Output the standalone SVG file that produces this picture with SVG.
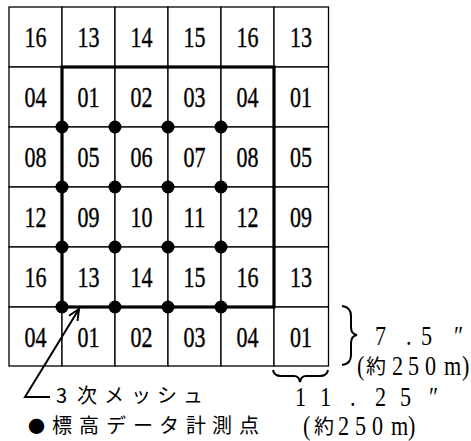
<svg xmlns="http://www.w3.org/2000/svg" width="471" height="441" viewBox="0 0 471 441">
<style>
.cell{fill:#fff;stroke:#000;stroke-width:1.3}
.num{font-family:'Liberation Serif','Noto Sans CJK JP',serif;font-size:29px;text-anchor:middle;fill:#000;stroke:#000;stroke-width:0.4}
.lbl{font-family:'Liberation Serif','Noto Sans CJK JP',serif;font-size:27px;fill:#000}
.jp{font-family:'Noto Sans CJK JP',sans-serif;font-size:20px;fill:#000}
.thick{fill:none;stroke:#000;stroke-width:3.2}
.dot{fill:#000}
.line{fill:none;stroke:#000;stroke-width:2;stroke-linejoin:miter}
</style>
<defs>
<marker id="ah" markerWidth="14" markerHeight="14" refX="12" refY="6" orient="auto" markerUnits="userSpaceOnUse">
<path d="M1,1 L12,6 L1,11" fill="none" stroke="#000" stroke-width="2"/>
</marker>
</defs>
<rect width="471" height="441" fill="#fff"/>
<g id="grid">
<g id="r0">
<rect class="cell" x="9" y="7" width="53" height="60"/><text class="num" x="35.5" y="47" textLength="22" lengthAdjust="spacingAndGlyphs">16</text>
<rect class="cell" x="62" y="7" width="53" height="60"/><text class="num" x="88.5" y="47" textLength="22" lengthAdjust="spacingAndGlyphs">13</text>
<rect class="cell" x="115" y="7" width="53" height="60"/><text class="num" x="141.5" y="47" textLength="22" lengthAdjust="spacingAndGlyphs">14</text>
<rect class="cell" x="168" y="7" width="53" height="60"/><text class="num" x="194.5" y="47" textLength="22" lengthAdjust="spacingAndGlyphs">15</text>
<rect class="cell" x="221" y="7" width="53" height="60"/><text class="num" x="247.5" y="47" textLength="22" lengthAdjust="spacingAndGlyphs">16</text>
<rect class="cell" x="274" y="7" width="54.5" height="60"/><text class="num" x="301" y="47" textLength="22" lengthAdjust="spacingAndGlyphs">13</text>
</g>
<g id="r1">
<rect class="cell" x="9" y="67" width="53" height="60"/><text class="num" x="35.5" y="107" textLength="22" lengthAdjust="spacingAndGlyphs">04</text>
<rect class="cell" x="62" y="67" width="53" height="60"/><text class="num" x="88.5" y="107" textLength="22" lengthAdjust="spacingAndGlyphs">01</text>
<rect class="cell" x="115" y="67" width="53" height="60"/><text class="num" x="141.5" y="107" textLength="22" lengthAdjust="spacingAndGlyphs">02</text>
<rect class="cell" x="168" y="67" width="53" height="60"/><text class="num" x="194.5" y="107" textLength="22" lengthAdjust="spacingAndGlyphs">03</text>
<rect class="cell" x="221" y="67" width="53" height="60"/><text class="num" x="247.5" y="107" textLength="22" lengthAdjust="spacingAndGlyphs">04</text>
<rect class="cell" x="274" y="67" width="54.5" height="60"/><text class="num" x="301" y="107" textLength="22" lengthAdjust="spacingAndGlyphs">01</text>
</g>
<g id="r2">
<rect class="cell" x="9" y="127" width="53" height="60"/><text class="num" x="35.5" y="167" textLength="22" lengthAdjust="spacingAndGlyphs">08</text>
<rect class="cell" x="62" y="127" width="53" height="60"/><text class="num" x="88.5" y="167" textLength="22" lengthAdjust="spacingAndGlyphs">05</text>
<rect class="cell" x="115" y="127" width="53" height="60"/><text class="num" x="141.5" y="167" textLength="22" lengthAdjust="spacingAndGlyphs">06</text>
<rect class="cell" x="168" y="127" width="53" height="60"/><text class="num" x="194.5" y="167" textLength="22" lengthAdjust="spacingAndGlyphs">07</text>
<rect class="cell" x="221" y="127" width="53" height="60"/><text class="num" x="247.5" y="167" textLength="22" lengthAdjust="spacingAndGlyphs">08</text>
<rect class="cell" x="274" y="127" width="54.5" height="60"/><text class="num" x="301" y="167" textLength="22" lengthAdjust="spacingAndGlyphs">05</text>
</g>
<g id="r3">
<rect class="cell" x="9" y="187" width="53" height="60"/><text class="num" x="35.5" y="227" textLength="22" lengthAdjust="spacingAndGlyphs">12</text>
<rect class="cell" x="62" y="187" width="53" height="60"/><text class="num" x="88.5" y="227" textLength="22" lengthAdjust="spacingAndGlyphs">09</text>
<rect class="cell" x="115" y="187" width="53" height="60"/><text class="num" x="141.5" y="227" textLength="22" lengthAdjust="spacingAndGlyphs">10</text>
<rect class="cell" x="168" y="187" width="53" height="60"/><text class="num" x="194.5" y="227" textLength="22" lengthAdjust="spacingAndGlyphs">11</text>
<rect class="cell" x="221" y="187" width="53" height="60"/><text class="num" x="247.5" y="227" textLength="22" lengthAdjust="spacingAndGlyphs">12</text>
<rect class="cell" x="274" y="187" width="54.5" height="60"/><text class="num" x="301" y="227" textLength="22" lengthAdjust="spacingAndGlyphs">09</text>
</g>
<g id="r4">
<rect class="cell" x="9" y="247" width="53" height="60"/><text class="num" x="35.5" y="287" textLength="22" lengthAdjust="spacingAndGlyphs">16</text>
<rect class="cell" x="62" y="247" width="53" height="60"/><text class="num" x="88.5" y="287" textLength="22" lengthAdjust="spacingAndGlyphs">13</text>
<rect class="cell" x="115" y="247" width="53" height="60"/><text class="num" x="141.5" y="287" textLength="22" lengthAdjust="spacingAndGlyphs">14</text>
<rect class="cell" x="168" y="247" width="53" height="60"/><text class="num" x="194.5" y="287" textLength="22" lengthAdjust="spacingAndGlyphs">15</text>
<rect class="cell" x="221" y="247" width="53" height="60"/><text class="num" x="247.5" y="287" textLength="22" lengthAdjust="spacingAndGlyphs">16</text>
<rect class="cell" x="274" y="247" width="54.5" height="60"/><text class="num" x="301" y="287" textLength="22" lengthAdjust="spacingAndGlyphs">13</text>
</g>
<g id="r5">
<rect class="cell" x="9" y="307" width="53" height="59"/><text class="num" x="35.5" y="346.5" textLength="22" lengthAdjust="spacingAndGlyphs">04</text>
<rect class="cell" x="62" y="307" width="53" height="59"/><text class="num" x="88.5" y="346.5" textLength="22" lengthAdjust="spacingAndGlyphs">01</text>
<rect class="cell" x="115" y="307" width="53" height="59"/><text class="num" x="141.5" y="346.5" textLength="22" lengthAdjust="spacingAndGlyphs">02</text>
<rect class="cell" x="168" y="307" width="53" height="59"/><text class="num" x="194.5" y="346.5" textLength="22" lengthAdjust="spacingAndGlyphs">03</text>
<rect class="cell" x="221" y="307" width="53" height="59"/><text class="num" x="247.5" y="346.5" textLength="22" lengthAdjust="spacingAndGlyphs">04</text>
<rect class="cell" x="274" y="307" width="54.5" height="59"/><text class="num" x="301" y="346.5" textLength="22" lengthAdjust="spacingAndGlyphs">01</text>
</g>
</g>
<g id="mesh3">
<rect class="thick" x="62" y="67" width="212" height="240"/>
</g>
<g id="points">
<circle class="dot" cx="62" cy="127" r="6.5"/><circle class="dot" cx="115" cy="127" r="6.5"/><circle class="dot" cx="168" cy="127" r="6.5"/><circle class="dot" cx="221" cy="127" r="6.5"/>
<circle class="dot" cx="62" cy="187" r="6.5"/><circle class="dot" cx="115" cy="187" r="6.5"/><circle class="dot" cx="168" cy="187" r="6.5"/><circle class="dot" cx="221" cy="187" r="6.5"/>
<circle class="dot" cx="62" cy="247" r="6.5"/><circle class="dot" cx="115" cy="247" r="6.5"/><circle class="dot" cx="168" cy="247" r="6.5"/><circle class="dot" cx="221" cy="247" r="6.5"/>
<circle class="dot" cx="62" cy="307" r="6.5"/><circle class="dot" cx="115" cy="307" r="6.5"/><circle class="dot" cx="168" cy="307" r="6.5"/><circle class="dot" cx="221" cy="307" r="6.5"/>
</g>
<g id="connectors">
<path class="line" d="M50,397 L25,397 L79,309" marker-end="url(#ah)"/>
<path class="line" d="M342,306 Q351,307 351,316 L351,327 Q351,334 357,335 Q351,336 351,343 L351,355 Q351,364 342,365"/>
<path class="line" d="M273,370 Q274,376 281,376 L294,376 Q299,376 300,382 Q301,376 306,376 L320,376 Q327,376 328,370"/>
</g>
<g id="label-mesh">
<text class="jp" x="56 77 104 131 157 183" y="403">3次メッシュ</text>
</g>
<g id="label-points">
<text class="jp" x="28 52 79 106 133 159 186 212 239" y="433"><tspan font-size="17">●</tspan>標高データ計測点</text>
</g>
<g id="label-lat">
<text class="lbl" transform="scale(0.82,1)" x="457.3 495.1 513.4 553.7" y="345">7.5″</text>
<text class="lbl" transform="scale(0.82,1)" x="435.4" y="375" font-size="25">(</text>
<text class="jp" x="366" y="374">約</text>
<text class="lbl" transform="scale(0.82,1)" x="478 497.6 518.3 541.5 563.4" y="375" font-size="25">250m)</text>
</g>
<g id="label-lon">
<text class="lbl" transform="scale(0.82,1)" x="359.8 390.2 426.8 457.3 487.8 523.2" y="406">11.25″</text>
<text class="lbl" transform="scale(0.82,1)" x="369.5" y="435" font-size="25">(</text>
<text class="jp" x="314" y="434">約</text>
<text class="lbl" transform="scale(0.82,1)" x="412.2 432.9 453.7 476.8 497.6" y="435" font-size="25">250m)</text>
</g>
</svg>
